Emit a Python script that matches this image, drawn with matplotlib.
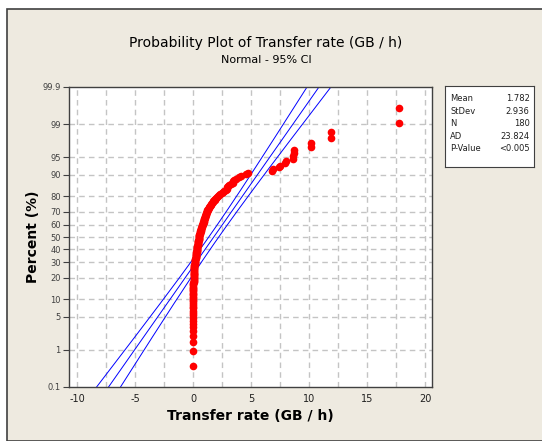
import matplotlib
matplotlib.use('Agg')
import matplotlib.pyplot as plt
import numpy as np
from statistics import NormalDist

transfer_rate = [
    0.0, 0.0, 0.0, 0.0, 0.0, 0.0, 0.0, 0.0, 0.0, 0.0,
    0.0, 0.0, 0.0, 0.0, 0.0, 0.0, 0.0, 0.0, 0.0, 0.0,
    0.01, 0.01, 0.01, 0.01, 0.02, 0.02, 0.02, 0.02, 0.03, 0.03,
    0.03, 0.04, 0.04, 0.04, 0.05, 0.05, 0.05, 0.06, 0.06, 0.06,
    0.07, 0.07, 0.08, 0.08, 0.09, 0.09, 0.10, 0.10, 0.11, 0.12,
    0.12, 0.13, 0.14,
    0.15, 0.16, 0.17, 0.18, 0.19, 0.20, 0.21, 0.22, 0.23, 0.24,
    0.25, 0.26, 0.27, 0.28, 0.29, 0.30, 0.31, 0.32, 0.33, 0.34,
    0.35, 0.36, 0.37,
    0.38, 0.39, 0.40, 0.41, 0.42, 0.43, 0.44, 0.45, 0.46, 0.47,
    0.48, 0.49, 0.50, 0.51, 0.52, 0.53, 0.54, 0.55, 0.57, 0.58,
    0.60, 0.61, 0.63, 0.64, 0.66,
    0.68, 0.70, 0.72, 0.74, 0.76, 0.78, 0.80, 0.82, 0.84, 0.86,
    0.88, 0.90, 0.92, 0.94, 0.96, 0.98, 1.00, 1.02, 1.03,
    1.06, 1.09, 1.11, 1.13, 1.15, 1.17, 1.19, 1.22, 1.26, 1.30,
    1.33, 1.38, 1.43, 1.48, 1.52, 1.58, 1.62, 1.68, 1.72, 1.80,
    1.85, 1.92, 1.98, 2.05, 2.15, 2.25, 2.35, 2.45, 2.55, 2.70,
    2.85, 2.90, 2.95, 3.00, 3.10, 3.30, 3.40, 3.40,
    3.50, 3.70, 4.00, 4.10, 4.60, 4.70,
    6.80, 6.90, 7.40, 7.50, 7.95, 8.00,
    8.60, 8.60, 8.70, 8.70,
    10.20, 10.20,
    11.85, 11.85,
    17.75, 17.75,
]

# Summary statistics shown in the legend box
stat_names = ['Mean', 'StDev', 'N', 'AD', 'P-Value']
stat_values = ['1.782', '2.936', '180', '23.824', '<0.005']
mean_fit = 1.782
sd_fit = 2.936
n_obs = 180

pct_ticks = [0.1, 1, 5, 10, 20, 30, 40, 50, 60, 70, 80, 90, 95, 99, 99.9]
pct_labels = ['0.1', '1', '5', '10', '20', '30', '40', '50', '60', '70',
              '80', '90', '95', '99', '99.9']
x_ticks = [-10, -5, 0, 5, 10, 15, 20]

nd = NormalDist()
bg = '#EEEAE0'

fig = plt.figure(figsize=(5.42, 4.41), dpi=100)
fig.patch.set_facecolor('white')
# beige panel with dark frame on top/left
fig.patches.append(plt.Rectangle((7 / 542, 0), 1, 1 - 9 / 441, transform=fig.transFigure,
                                 facecolor=bg, edgecolor='#404040', linewidth=1.2,
                                 zorder=-10))

ax = fig.add_axes([69 / 542, 1 - 387 / 441, 363 / 542, 300 / 441])
ax.set_facecolor('white')

# probability (normal) scale in z units, median-rank plotting positions
data = np.array(transfer_rate)
n = len(data)
ranks = np.arange(1, n + 1)
z_pts = np.array([nd.inv_cdf(p) for p in (ranks - 0.3) / (n + 0.4)])

z_lo = nd.inv_cdf(0.001)
z_hi = nd.inv_cdf(0.999)
zz = np.linspace(z_lo, z_hi, 200)
fit = mean_fit + sd_fit * zz
se = sd_fit / np.sqrt(n_obs) * np.sqrt(1 + zz ** 2 / 2)
ci = 1.959964 * se

# grid
for x in np.arange(-10, 20.01, 2.5):
    ax.axvline(x, color='#C4C4C4', linestyle=(0, (4, 3)), linewidth=1.0, zorder=1)
for p in pct_ticks[1:-1]:
    ax.axhline(nd.inv_cdf(p / 100), color='#C4C4C4', linestyle=(0, (4, 3)),
               linewidth=1.0, zorder=1)

ax.plot(fit, zz, color='#0000FF', linewidth=0.7, zorder=2)
ax.plot(fit - ci, zz, color='#0000FF', linewidth=0.7, zorder=2)
ax.plot(fit + ci, zz, color='#0000FF', linewidth=0.7, zorder=2)

ax.plot(data, z_pts, 'o', color='#FF0000', markersize=5.5, markeredgewidth=0, zorder=3)

ax.set_xlim(-10.7, 20.6)
ax.set_ylim(z_lo, z_hi)
ax.set_xticks(x_ticks)
ax.set_xticklabels([str(t) for t in x_ticks], fontsize=7, color='#202020')
ax.set_yticks([nd.inv_cdf(p / 100) for p in pct_ticks])
ax.set_yticklabels(pct_labels, fontsize=6, color='#404040')
ax.tick_params(axis='x', length=0, pad=5)
ax.tick_params(axis='y', length=4, width=0.8, pad=2, color='#404040')
for s in ax.spines.values():
    s.set_color('#404040')
    s.set_linewidth(1.0)

ax.set_xlabel('Transfer rate (GB / h)', fontsize=10, fontweight='bold', labelpad=4)
ax.set_ylabel('Percent (%)', fontsize=10, fontweight='bold', labelpad=2)

fig.text(266 / 542, 1 - 43 / 441, 'Probability Plot of Transfer rate (GB / h)',
         ha='center', va='center', fontsize=10)
fig.text(266 / 542, 1 - 60 / 441, 'Normal - 95% CI', ha='center', va='center', fontsize=8)

# statistics box
box = fig.add_axes([445 / 542, 1 - 167 / 441, 89 / 542, 81 / 441])
box.set_xlim(0, 1)
box.set_ylim(0, 1)
box.set_xticks([])
box.set_yticks([])
box.set_facecolor('white')
for s in box.spines.values():
    s.set_color('#404040')
    s.set_linewidth(0.8)
row_y = [98.3, 111.3, 123.8, 136.3, 148.8]
for name, val, yy in zip(stat_names, stat_values, row_y):
    yf = (167 - yy) / 81
    box.text(0.06, yf, name, ha='left', va='center', fontsize=6, color='#202020')
    box.text(0.95, yf, val, ha='right', va='center', fontsize=6, color='#202020')

fig.savefig('out.png', dpi=100, facecolor=fig.get_facecolor())
